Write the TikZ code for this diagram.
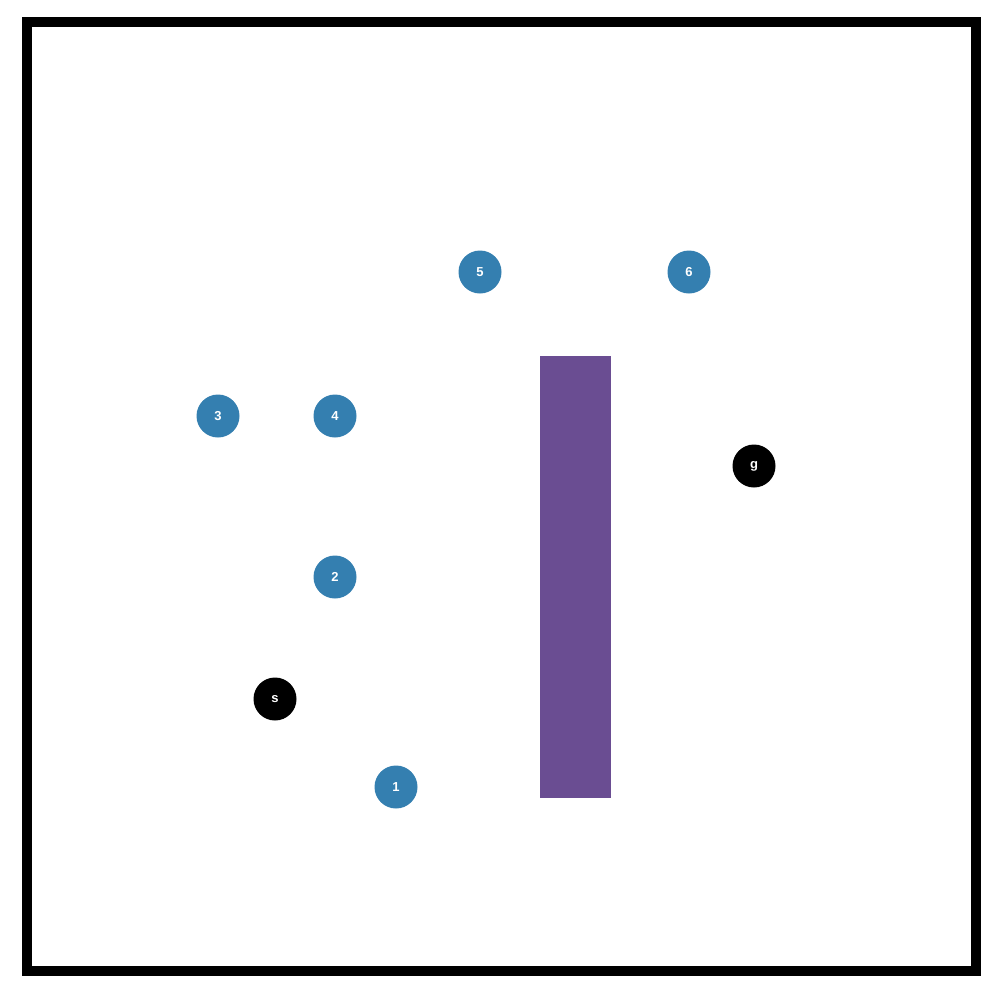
\documentclass[tikz,border=0pt]{standalone}
\usepackage{fontspec}
\setmainfont{Liberation Sans}
\begin{document}
\begin{tikzpicture}[x=1pt,y=-1pt,
  wp/.style={circle,fill=wpblue,minimum size=43pt,inner sep=0pt,text=white,font=\bfseries\fontsize{13}{15}\selectfont},
  ep/.style={circle,fill=black,minimum size=43pt,inner sep=0pt,text=white,font=\bfseries\fontsize{13}{15}\selectfont}]
\definecolor{wpblue}{RGB}{52,127,176}
\definecolor{obst}{RGB}{106,77,146}
\useasboundingbox (0,0) rectangle (1000,998);
\draw[line width=10pt] (27,22) rectangle (976,971);
\fill[obst] (540,356) rectangle (611,798);
\node[wp] (n5) at (480,272) {5};
\node[wp] (n6) at (689,272) {6};
\node[wp] (n3) at (218,416) {3};
\node[wp] (n4) at (335,416) {4};
\node[ep] (g) at (754,466) {g};
\node[wp] (n2) at (335,577) {2};
\node[ep] (s) at (275,699) {s};
\node[wp] (n1) at (396,787) {1};
\end{tikzpicture}
\end{document}
